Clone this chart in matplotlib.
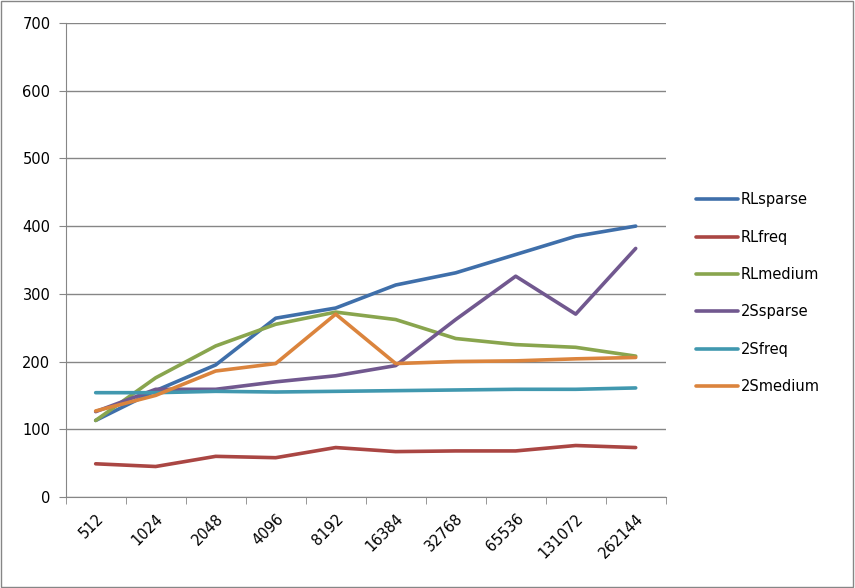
import matplotlib.pyplot as plt
from matplotlib.patches import Rectangle
import numpy as np

plt.rcParams['font.family'] = ['DejaVu Sans']

categories = ['512', '1024', '2048', '4096', '8192', '16384', '32768', '65536', '131072', '262144']

rl_sparse = [113, 157, 195, 264, 279, 313, 331, 358, 385, 400]
rl_freq = [49, 45, 60, 58, 73, 67, 68, 68, 76, 73]
rl_medium = [113, 176, 223, 255, 273, 262, 234, 225, 221, 208]
s2_sparse = [126, 159, 159, 170, 179, 194, 262, 326, 270, 367]
s2_freq = [154, 154, 156, 155, 156, 157, 158, 159, 159, 161]
s2_medium = [127, 150, 186, 197, 270, 197, 200, 201, 204, 206]

series = [
    ('RLsparse', rl_sparse, '#3F6FAA'),
    ('RLfreq', rl_freq, '#AA4643'),
    ('RLmedium', rl_medium, '#89A54E'),
    ('2Ssparse', s2_sparse, '#71588F'),
    ('2Sfreq', s2_freq, '#4198AF'),
    ('2Smedium', s2_medium, '#DB843D'),
]

fig = plt.figure(figsize=(8.55, 5.88), dpi=100)
ax = fig.add_axes([0.0768, 0.1548, 0.7018, 0.8062])

x = np.arange(len(categories))
for name, vals, col in series:
    ax.plot(x, vals, color=col, lw=2.6, label=name, solid_capstyle='round')

ax.set_xlim(-0.5, len(categories) - 0.5)
ax.set_ylim(0, 700)
ax.set_yticks(range(0, 701, 100))
ax.yaxis.grid(True, color='#868686', lw=1)
ax.set_axisbelow(True)

ax.set_xticks(x)
ax.set_xticklabels(categories, rotation=45, ha='right', rotation_mode='anchor')
ax.set_xticks(np.arange(-0.5, len(categories), 1), minor=True)
ax.tick_params(axis='x', which='major', length=0, pad=10, labelsize=10.5)
ax.tick_params(axis='x', which='minor', length=5, color='#868686')
ax.tick_params(axis='y', length=5, color='#868686', labelsize=10.5, pad=6)

for s in ['top', 'right']:
    ax.spines[s].set_visible(False)
for s in ['left', 'bottom']:
    ax.spines[s].set_color('#868686')

ax.legend(loc='upper left', bbox_to_anchor=(1.028, 0.67), frameon=False,
          fontsize=10.5, handlelength=2.9, handletextpad=0.2, labelspacing=1.53)

fig.add_artist(Rectangle((0.001, 0.001), 0.997, 0.997, transform=fig.transFigure,
                         fill=False, edgecolor='#868686', lw=1))

fig.savefig('out.png', dpi=100)
